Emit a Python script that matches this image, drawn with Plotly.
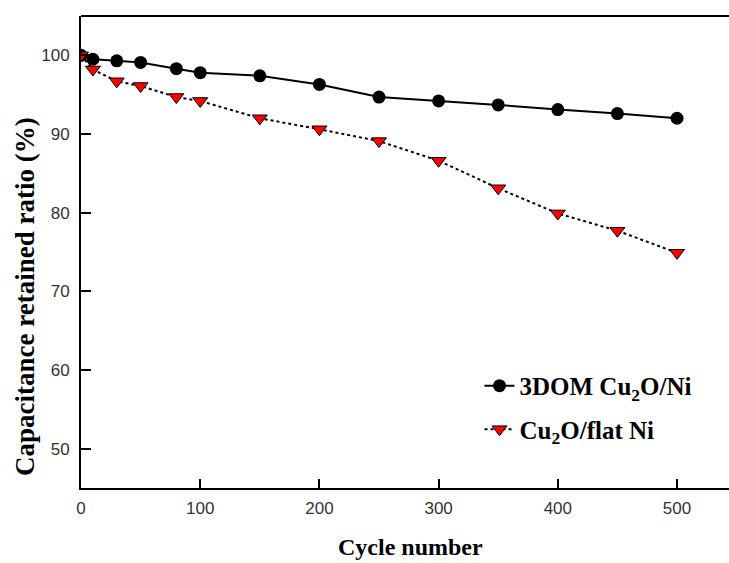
import plotly.graph_objects as go

cycles = [0, 10, 30, 50, 80, 100, 150, 200, 250, 300, 350, 400, 450, 500]
dom_3d = [100.0, 99.5, 99.3, 99.1, 98.3, 97.8, 97.4, 96.3, 94.7, 94.2, 93.7, 93.1, 92.6, 92.0]
flat_ni = [100.0, 98.2, 96.7, 96.1, 94.7, 94.2, 92.0, 90.6, 89.1, 86.6, 83.1, 79.9, 77.7, 74.9]
x_ticks = [0, 100, 200, 300, 400, 500]
y_ticks = [50, 60, 70, 80, 90, 100]

fig = go.Figure()
fig.add_trace(go.Scatter(
    x=cycles, y=dom_3d, mode="lines+markers", name="<b>3DOM Cu<sub>2</sub>O/Ni</b>",
    legendgroup="a",
    line=dict(color="black", width=2),
    marker=dict(symbol="circle", size=13, color="black"),
))
fig.add_trace(go.Scatter(
    x=cycles, y=flat_ni, mode="lines+markers", name="<b>Cu<sub>2</sub>O/flat Ni</b>",
    legendgroup="b",
    line=dict(color="black", width=2, dash="dot"),
    marker=dict(symbol="triangle-down", size=13, color="red",
                line=dict(color="black", width=1)),
))

fig.update_layout(
    width=729, height=563,
    margin=dict(l=81, r=0, t=16, b=75),
    plot_bgcolor="white", paper_bgcolor="white",
    showlegend=True,
    legend=dict(x=0.615, y=0.265, xanchor="left", yanchor="top",
                bgcolor="rgba(0,0,0,0)",
                font=dict(family="Liberation Serif", size=25, color="black"),
                tracegroupgap=8),
    xaxis=dict(range=[0, 543.6], tickvals=x_ticks, ticks="inside", ticklen=9,
               tickwidth=2, tickcolor="black", showline=True, linecolor="black",
               linewidth=2, showgrid=False, zeroline=False,
               ticklabelstandoff=4,
               tickfont=dict(family="Liberation Sans", size=17, color="#333")),
    yaxis=dict(range=[45, 105], tickvals=y_ticks, ticks="inside", ticklen=10,
               tickwidth=2, tickcolor="black", showline=True, linecolor="black",
               linewidth=2, showgrid=False, zeroline=False,
               ticklabelstandoff=6,
               tickfont=dict(family="Liberation Sans", size=17, color="#333")),
    annotations=[
        dict(text="<b>Cycle number</b>", xref="paper", yref="paper",
             x=(410 - 81) / 648, y=-(547 - 488) / 472, xanchor="center", yanchor="middle",
             showarrow=False,
             font=dict(family="Liberation Serif", size=24, color="black")),
        dict(text="<b>Capacitance retained ratio (%)</b>", xref="paper", yref="paper",
             x=-(81 - 25) / 648, y=1 - (297 - 16) / 472, xanchor="center", yanchor="middle",
             textangle=-90, showarrow=False,
             font=dict(family="Liberation Serif", size=27, color="black")),
    ],
)
fig.add_shape(type="line", xref="paper", yref="paper", x0=0, x1=1, y0=1, y1=1,
              line=dict(color="black", width=2))

fig.write_html("out.html")
